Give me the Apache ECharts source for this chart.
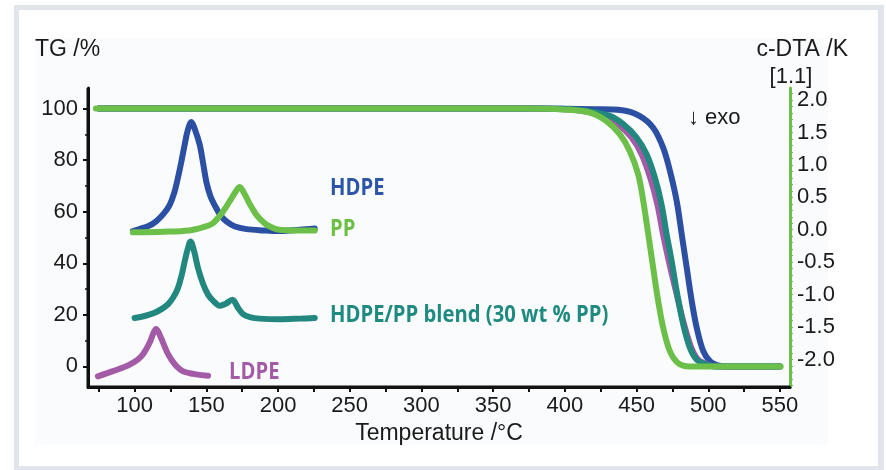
<!DOCTYPE html>
<html><head><meta charset="utf-8">
<script src="https://cdn.jsdelivr.net/npm/echarts@6/dist/echarts.min.js"></script>
<style>
html,body{margin:0;padding:0;background:#fff}
#wrap{position:relative;width:886px;height:470px;overflow:hidden;background:#fff}
#frame{position:absolute;left:14px;top:5px;width:870px;height:465px;background:#dfe5eb}
#inner{position:absolute;left:19px;top:10px;width:859px;height:456px;background:#fff}
#plotbg{position:absolute;left:35px;top:38px;width:793px;height:407px;background:#fafbfc}
#c{position:absolute;left:0;top:0;width:886px;height:470px;z-index:1}
#xline{position:absolute;background:#111111;z-index:2;height:3px}
</style>
</head><body>
<div id="wrap"><div id="frame"></div><div id="inner"></div><div id="plotbg"></div><div id="c"></div><div id="xline"></div></div>
<script>
// ---- Data ----
// Tick labels
const xTickLabels = [100,150,200,250,300,350,400,450,500,550];
const xTickMarks = [75,100,125,150,175,200,225,250,275,300,325,350,375,400,425,450,475,500,525,550];
const tgTickLabels = [0,20,40,60,80,100];
const tgMinorTicks = [10,30,50,70,90];
const dtaTickLabels = [-2.0,-1.5,-1.0,-0.5,0.0,0.5,1.0,1.5,2.0];
const dtaTickMarks = [-2.4,-2.3,-2.2,-2.1,-2.0,-1.9,-1.8,-1.7,-1.6,-1.5,-1.4,-1.3,-1.2,-1.1,-1.0,-0.9,-0.8,-0.7,-0.6,-0.5,-0.4,-0.3,-0.2,-0.1,0.0,0.1,0.2,0.3,0.4,0.5,0.6,0.7,0.8,0.9,1.0,1.1,1.2,1.3,1.4,1.5,1.6,1.7,1.8,1.9,2.0,2.1];

// TG curves (Temperature °C, TG %)
const tgHDPE = [[75,100],[380,100],[420,99.8],[440,99.4],[452,97.2],[461.6,92.6],[468.6,84.8],[473.3,75.8],[478,64.1],[481.5,51.2],[485,38.2],[488.5,25.3],[492,14.9],[496.6,5.8],[501.3,1.9],[506,0.5],[512,0],[550,0]];
const tgLDPE = [[75,100],[380,100],[410,99.3],[428,97],[437,94],[446.5,88.8],[453.5,82.3],[459.5,73.2],[464.5,62.9],[468.5,51.2],[472.5,40.8],[478,27.9],[483.2,16.2],[488.3,7.1],[493,2.6],[499,0.8],[506,0],[550,0]];
const tgBlend = [[75,100],[380,100],[410,99.5],[431.4,97.2],[440.7,94],[450,88.8],[457,82.3],[462.8,73.2],[467.4,62.9],[471,51.2],[474.5,40.8],[478.4,27.9],[482.6,16.2],[487.3,7.1],[492,2.6],[497.7,0.9],[505,0],[550,0]];
const tgPP = [[73,100],[370,100],[400,99.6],[417.4,98.5],[429,95.2],[438.4,90],[445.3,83.5],[451.2,74.4],[454.7,64.1],[458.2,51.2],[461.6,38.2],[465.1,25.3],[468.6,14.9],[473.3,5.8],[479,1.3],[487,0],[550.5,0]];

// c-DTA curves (Temperature °C, c-DTA K)
const dtaHDPE = [[98.8,-0.02],[110,0.06],[115,0.13],[120,0.24],[124.4,0.38],[127.5,0.56],[130.2,0.8],[132.6,1.05],[134.9,1.31],[137,1.53],[139.6,1.66],[142,1.55],[145.4,1.31],[147.8,1.02],[150,0.74],[152.8,0.52],[155.8,0.38],[160,0.22],[164,0.13],[170,0.05],[178,0.01],[190,-0.01],[200,-0.02],[215,0.0],[225.6,0.02]];
const dtaPP = [[98.8,-0.04],[120,-0.03],[138,-0.01],[148,0.04],[154.6,0.1],[161.6,0.28],[166.3,0.44],[170,0.57],[173.3,0.66],[176.5,0.56],[179.5,0.43],[182.6,0.31],[186,0.2],[191.9,0.08],[201,0.0],[212,-0.01],[225.6,-0.01]];
const dtaBlend = [[100,-1.36],[107,-1.33],[114,-1.28],[119,-1.22],[123.2,-1.15],[127,-1.04],[130.2,-0.9],[132.8,-0.7],[134.9,-0.49],[137,-0.3],[139,-0.18],[141.5,-0.33],[144.2,-0.59],[147.5,-0.82],[151.2,-1.0],[155,-1.1],[159.3,-1.17],[163.5,-1.14],[168.2,-1.08],[172,-1.2],[175.6,-1.3],[181,-1.35],[187.2,-1.37],[201,-1.38],[215,-1.37],[225.6,-1.36]];
const dtaLDPE = [[74.4,-2.26],[84.9,-2.18],[96.5,-2.08],[104.7,-1.95],[110.5,-1.74],[113,-1.6],[115,-1.53],[117.5,-1.62],[119.8,-1.74],[122.5,-1.88],[125.6,-2.0],[129.5,-2.11],[133.7,-2.18],[143,-2.23],[151.2,-2.25]];

// ---- Styling ----
const C = {blue:'#2b4fa3', green:'#6cc04a', teal:'#21877f', purple:'#a35ba7', ink:'#1a1a1a', axis:'#111111'};
const axFont = 'Liberation Sans, Arial, sans-serif';
const lblFont = 'Open Sans, sans-serif';

const X = {min:67.5, max:557};
const YL = {min:-8, max:108};
const YR = {min:-2.424, max:2.185};

function line(name, data, color, yIdx, z){
  return {name, type:'line', data, xAxisIndex:0, yAxisIndex:yIdx, showSymbol:false, smooth:0.35,
    lineStyle:{color, width:6, cap:'round', join:'round'}, z, silent:true, animation:false};
}
function label(text, x, y, color, font, align, extra){
  return Object.assign({type:'text', z:10, silent:true, x, y,
    style:{text, x:0, y:0, textAlign:align || 'left', textVerticalAlign:'middle', font, fill:color}}, extra || {});
}

const labels = [
  label('TG /%', 35, 50, C.ink, '23px '+axFont),
  label('c-DTA /K', 848, 50, C.ink, '23px '+axFont, 'right'),
  label('[1.1]', 791, 77, C.ink, '22px '+axFont, 'center'),
  label('↓ exo', 688, 118, C.ink, '22px '+axFont),
  label('HDPE', 330, 188, '#2d56a6', 'bold 23px '+lblFont, 'left', {scaleX:0.88}),
  label('PP', 330, 229, '#6cbf45', 'bold 23px '+lblFont, 'left', {scaleX:0.88}),
  label('HDPE/PP blend (30 wt % PP)', 330, 315, '#1f8a80', 'bold 23px '+lblFont, 'left', {scaleX:0.88}),
  label('LDPE', 229, 372, '#a35ba7', 'bold 23px '+lblFont, 'left', {scaleX:0.88})
];

const chart = echarts.init(document.getElementById('c'), null, {renderer:'canvas'});
chart.setOption({
  animation:false,
  backgroundColor:'transparent',
  grid:{left:88, right:96, top:88, bottom:83, containLabel:false},
  xAxis:[{
    type:'value', min:X.min, max:X.max, position:'bottom',
    axisLine:{show:true, onZero:false, lineStyle:{color:C.axis, width:3}},
    axisTick:{show:true, customValues:xTickMarks, length:5, lineStyle:{color:C.axis, width:2}},
    axisLabel:{show:true, customValues:xTickLabels, margin:8, fontSize:22, fontFamily:axFont, color:C.ink},
    splitLine:{show:false},
    name:'Temperature /°C', nameLocation:'middle', nameGap:33,
    nameTextStyle:{fontSize:23, fontFamily:axFont, color:C.ink}
  }],
  yAxis:[{
    type:'value', position:'left', min:YL.min, max:YL.max,
    axisLine:{show:true, onZero:false, lineStyle:{color:C.axis, width:3}},
    axisTick:{show:true, customValues:tgTickLabels, length:5, lineStyle:{color:C.axis, width:2}},
    axisLabel:{show:true, customValues:tgTickLabels, margin:10, fontSize:22, fontFamily:axFont, color:C.ink},
    splitLine:{show:false}
  },{
    type:'value', position:'right', min:YR.min, max:YR.max,
    axisLine:{show:true, onZero:false, lineStyle:{color:C.green, width:3}},
    axisTick:{show:true, customValues:dtaTickMarks, length:3, lineStyle:{color:C.green, width:1.2}},
    axisLabel:{show:true, customValues:dtaTickLabels, margin:7, fontSize:22, fontFamily:axFont, color:C.ink,
      formatter:v=>Number(v).toFixed(1)},
    splitLine:{show:false}
  },{
    type:'value', position:'left', min:YL.min, max:YL.max,
    axisLine:{show:false, onZero:false},
    axisTick:{show:true, customValues:tgMinorTicks, length:3, lineStyle:{color:C.axis, width:1.5}},
    axisLabel:{show:false}, splitLine:{show:false}
  }],
  graphic: labels,
  series:[
    line('TG HDPE', tgHDPE, C.blue, 0, 3),
    line('TG LDPE', tgLDPE, C.purple, 0, 4),
    line('TG HDPE/PP blend', tgBlend, C.teal, 0, 5),
    line('TG PP', tgPP, C.green, 0, 6),
    line('c-DTA HDPE', dtaHDPE, C.blue, 1, 3),
    line('c-DTA PP', dtaPP, C.green, 1, 4),
    line('c-DTA HDPE/PP blend', dtaBlend, C.teal, 1, 5),
    line('c-DTA LDPE', dtaLDPE, C.purple, 1, 6)
  ]
});

// Axis lines placed with the library's own scale conversion
const pLo = chart.convertToPixel({xAxisIndex:0, yAxisIndex:0}, [X.min, YL.min]);
const pHi = chart.convertToPixel({xAxisIndex:0, yAxisIndex:0}, [X.max, YL.max]);
chart.setOption({graphic: labels.concat([
  {type:'line', z:20, silent:true, shape:{x1:pLo[0], y1:pLo[1], x2:pLo[0], y2:pHi[1]}, style:{stroke:C.axis, lineWidth:3}},
  {type:'line', z:20, silent:true, shape:{x1:pLo[0], y1:pLo[1], x2:pHi[0], y2:pLo[1]}, style:{stroke:C.axis, lineWidth:3}}
])});
// Bottom axis baseline also as an overlay element, positioned from the same conversion
const xl = document.getElementById('xline');
xl.style.left = (pLo[0] - 1.5) + 'px';
xl.style.top = (pLo[1] - 1.5) + 'px';
xl.style.width = (pHi[0] - pLo[0] + 1.5) + 'px';
</script></body></html>
